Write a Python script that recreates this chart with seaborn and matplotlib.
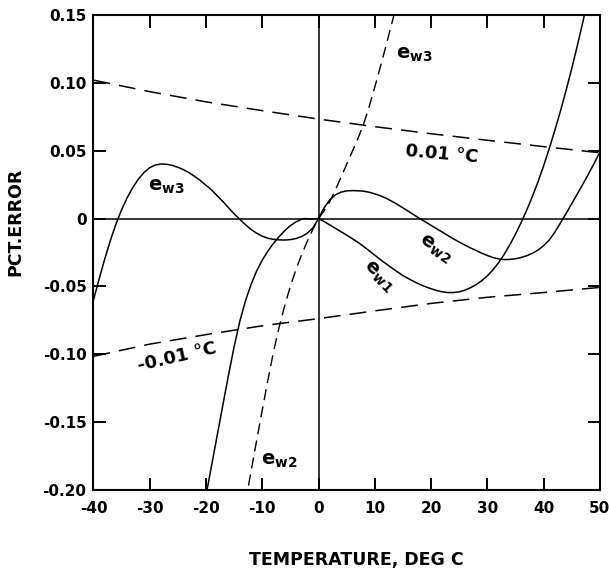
import matplotlib
matplotlib.use("Agg")
import matplotlib.pyplot as plt
import seaborn as sns

# solid curve e_w3, below 0 deg C
ew3_t = [-40, -39, -38, -37, -36, -35, -34, -33, -32, -31, -30, -29, -28, -27, -26,
         -25, -24, -23, -22, -21, -20, -19, -18, -17, -16, -15, -14, -13, -12, -11,
         -10, -9, -8, -7, -6, -5, -4, -3, -2, -1, 0]
ew3_err = [-0.060, -0.0445, -0.0298, -0.0162, -0.0040, 0.0065, 0.0155, 0.0230, 0.0292,
           0.0340, 0.0375, 0.0395, 0.0402, 0.0400, 0.0392, 0.0378, 0.0360, 0.0338, 0.031,
           0.028, 0.0245, 0.021, 0.0168, 0.0125, 0.008, 0.0035, -0.0005, -0.0045, -0.008,
           -0.0108, -0.0130, -0.0145, -0.0153, -0.0157, -0.0158, -0.0155, -0.0147,
           -0.0132, -0.0108, -0.0068, 0.0]

# solid curve rising from the bottom towards 0 (left branch)
ew1_left_t = [-20, -19, -18, -17, -16, -15, -14, -13, -12, -11, -10, -9, -8, -7, -6,
              -5, -4, -3, -2.4, -1.2, 0]
ew1_left_err = [-0.2039, -0.1817, -0.1595, -0.1373, -0.1153, -0.0943, -0.0758, -0.0608,
                -0.0486, -0.0386, -0.0306, -0.0239, -0.0182, -0.0133, -0.0089, -0.0052,
                -0.0024, -0.0005, 0.0, -0.0004, 0.0]

# dashed curve: e_w2 below 0, e_w3 above 0
dash_t = [-13, -12, -11, -10, -9, -8, -7, -6, -5, -4, -3, -2, -1, 0,
          1, 2, 3, 4, 5, 6, 7, 8, 9, 10, 11, 12, 13, 13.5]
dash_err = [-0.2093, -0.1863, -0.1635, -0.1410, -0.1190, -0.0980, -0.0800, -0.0640,
            -0.0498, -0.0374, -0.0265, -0.0167, -0.0079, 0.0,
            0.0058, 0.0125, 0.0212, 0.0305, 0.040, 0.0495, 0.059, 0.0695, 0.0825,
            0.0970, 0.1120, 0.1275, 0.1435, 0.1515]

# solid curve e_w2, above 0 deg C
ew2_t = [0, 0.5] + list(range(1, 51))
ew2_err = [0.0, 0.0042, 0.0080, 0.0138, 0.0175, 0.0195, 0.0204, 0.0206, 0.0205, 0.0202,
           0.0194, 0.0182, 0.0168, 0.0150, 0.0128, 0.0104, 0.0079, 0.0053, 0.0026,
           0.0000, -0.0025, -0.0050, -0.0075, -0.0100, -0.0125, -0.0150, -0.0173,
           -0.0195, -0.0216, -0.0235, -0.0255, -0.0272, -0.0287, -0.0297, -0.0302,
           -0.0301, -0.0296, -0.0287, -0.0274, -0.0256, -0.0232, -0.0200, -0.0158,
           -0.0100, -0.0032, 0.0038, 0.0110, 0.0182, 0.0255, 0.0330, 0.0408, 0.0490]

# solid curve e_w1, above 0 deg C
ew1_t = list(range(0, 48)) + [47.5]
ew1_err = [0.0, -0.0022, -0.0047, -0.0072, -0.0097, -0.0122, -0.0148, -0.0175, -0.0205,
           -0.0237, -0.0270, -0.0302, -0.0333, -0.0363, -0.0392, -0.0420, -0.0443,
           -0.0465, -0.0485, -0.0502, -0.0517, -0.0530, -0.0540, -0.0545, -0.0545,
           -0.0540, -0.0528, -0.0510, -0.0487, -0.0458, -0.0422, -0.0378, -0.0325,
           -0.0263, -0.0193, -0.0115, -0.0030, 0.0062, 0.0162, 0.0270, 0.0388, 0.0515,
           0.0650, 0.0793, 0.0945, 0.1105, 0.1275, 0.1452, 0.155]

# +/- 0.01 deg C error bands
band_t = [-40, -30, -20, -10, 0, 10, 20, 30, 40, 50]
band_hi = [0.102, 0.0935, 0.086, 0.0795, 0.0733, 0.0677, 0.0625, 0.0577, 0.0530, 0.0485]
band_lo = [-0.1015, -0.0925, -0.0855, -0.0790, -0.0737, -0.0680, -0.0625, -0.0580,
           -0.0545, -0.0507]

x_ticks = [-40, -30, -20, -10, 0, 10, 20, 30, 40, 50]
x_labels = ["-40", "-30", "-20", "-10", "0", "10", "20", "30", "40", "50"]
y_ticks = [0.15, 0.10, 0.05, 0.0, -0.05, -0.10, -0.15, -0.20]
y_labels = ["0.15", "0.10", "0.05", "0", "-0.05", "-0.10", "-0.15", "-0.20"]

sns.set_style("ticks")
plt.rcParams["font.family"] = ["DejaVu Sans"]
plt.rcParams["font.weight"] = "bold"
plt.rcParams["mathtext.default"] = "regular"
plt.rcParams["text.color"] = "black"
plt.rcParams["axes.labelcolor"] = "black"

fig = plt.figure(figsize=(6.09, 5.74), dpi=100)
ax = fig.add_axes([0.1535, 0.1463, 0.8315, 0.8276])

ax.axhline(0, color="black", lw=1.1, zorder=1)
ax.axvline(0, color="black", lw=1.1, zorder=1)

solid = dict(color="black", linewidth=1.1, estimator=None, sort=False, ax=ax)
sns.lineplot(x=ew3_t, y=ew3_err, **solid)
sns.lineplot(x=ew1_left_t, y=ew1_left_err, **solid)
sns.lineplot(x=ew2_t, y=ew2_err, **solid)
sns.lineplot(x=ew1_t, y=ew1_err, **solid)
sns.lineplot(x=dash_t, y=dash_err, color="black", linewidth=1.0, estimator=None,
             sort=False, ax=ax, linestyle=(0, (8, 4.5)))
sns.lineplot(x=band_t, y=band_hi, color="black", linewidth=1.1, estimator=None,
             sort=False, ax=ax, linestyle=(0, (11, 6)))
sns.lineplot(x=band_t, y=band_lo, color="black", linewidth=1.1, estimator=None,
             sort=False, ax=ax, linestyle=(0, (11, 6)))

ax.set_xlim(-40, 50)
ax.set_ylim(-0.20, 0.15)
ax.set_xticks(x_ticks)
ax.set_xticklabels(x_labels)
ax.set_yticks(y_ticks)
ax.set_yticklabels(y_labels)
ax.tick_params(direction="in", top=True, right=True, length=9, width=1.4,
               labelsize=11, colors="black")
ax.tick_params(axis="x", pad=8)
ax.tick_params(axis="y", pad=5)
for sp in ax.spines.values():
    sp.set_linewidth(1.5)
    sp.set_color("black")

ax.set_xlabel("TEMPERATURE, DEG C", fontsize=12.5, fontweight="bold")
ax.xaxis.set_label_coords(0.52, -0.128)
ax.set_ylabel("PCT.ERROR", fontsize=12.5, fontweight="bold")
ax.yaxis.set_label_coords(-0.137, 0.564)

lab = dict(ha="center", va="center", fontsize=14, fontweight="bold", color="black")
ax.text(-27.0, 0.0235, r"e$_{\mathregular{w3}}$", **lab)
ax.text(17.1, 0.121, r"e$_{\mathregular{w3}}$", **lab)
ax.text(-7.0, -0.178, r"e$_{\mathregular{w2}}$", **lab)
ax.text(20.7, -0.0219, r"e$_{\mathregular{w2}}$", rotation=-35, **lab)
ax.text(10.6, -0.0428, r"e$_{\mathregular{w1}}$", rotation=-45, **lab)
ax.text(21.9, 0.0476, "0.01 °C", ha="center", va="center", fontsize=13,
        fontweight="bold", rotation=-5, color="black")
ax.text(-25.2, -0.1018, "-0.01 °C", ha="center", va="center", fontsize=13,
        fontweight="bold", rotation=13, color="black")

fig.savefig("out.png", dpi=100)
